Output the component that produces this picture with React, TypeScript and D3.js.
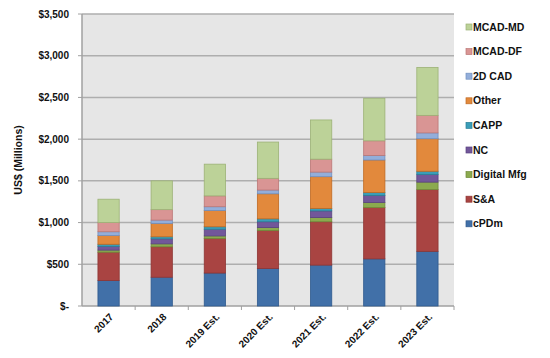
import { useMemo } from "react";
import * as d3 from "d3";

// chart data
const years = ["2017", "2018", "2019 Est.", "2020 Est.", "2021 Est.", "2022 Est.", "2023 Est."];
const seriesNames = ["cPDm", "S&A", "Digital Mfg", "NC", "CAPP", "Other", "2D CAD", "MCAD-DF", "MCAD-MD"];
const cPDm = [305, 345, 395, 450, 490, 565, 655];
const sAndA = [340, 365, 415, 455, 520, 615, 740];
const digitalMfg = [25, 35, 30, 35, 50, 60, 90];
const nc = [45, 60, 80, 70, 80, 85, 90];
const capp = [25, 25, 30, 35, 30, 35, 40];
const other = [105, 160, 195, 300, 380, 390, 390];
const cad2d = [45, 40, 45, 45, 55, 55, 70];
const mcadDF = [110, 125, 130, 140, 155, 175, 210];
const mcadMD = [280, 345, 380, 435, 470, 510, 575];
const yTicks = [0, 500, 1000, 1500, 2000, 2500, 3000, 3500];

const fills = ["#4170A8", "#A94442", "#8BAA4E", "#72579A", "#3A9DB8", "#E2893C", "#93AEDA", "#D99594", "#BCD298"];
const strokes = ["#2F5A8E", "#8E3533", "#6F8A3A", "#5A4380", "#2A7F96", "#C06A22", "#7090C0", "#BB7776", "#9CB276"];

const W = 550;
const H = 358;
const margin = { left: 82, right: 96, top: 14, bottom: 52 };

export default function App() {
  const innerW = W - margin.left - margin.right;
  const innerH = H - margin.top - margin.bottom;

  const rows = useMemo(
    () =>
      years.map((year, i) => ({
        year,
        cPDm: cPDm[i],
        "S&A": sAndA[i],
        "Digital Mfg": digitalMfg[i],
        NC: nc[i],
        CAPP: capp[i],
        Other: other[i],
        "2D CAD": cad2d[i],
        "MCAD-DF": mcadDF[i],
        "MCAD-MD": mcadMD[i],
      })),
    []
  );

  const stacked = d3.stack<any>().keys(seriesNames)(rows);

  // bars are 21px wide inside equal slots -> band scale with matching padding
  const x = d3.scaleBand().domain(years).range([0, innerW]).paddingInner(0.6).paddingOuter(0.3);
  const y = d3.scaleLinear().domain([0, 3500]).range([innerH, 0]);
  const fmt = (v: number) => (v === 0 ? "$-" : "$" + d3.format(",")(v));
  const step = x.step();
  const bw = x.bandwidth();
  const cx = (yr: string) => (x(yr) ?? 0) + bw / 2;

  const font = "'Liberation Sans', Arial, sans-serif";
  const legendOrder = [...seriesNames].reverse();

  return (
    <svg width={W} height={H} style={{ position: "absolute", left: 0, top: 0, background: "#fff" }}>
      <g transform={`translate(${margin.left},${margin.top})`}>
        <rect x={0} y={0} width={innerW} height={innerH} fill="#E6E6E6" />
        {yTicks.map((t) => (
          <g key={t}>
            {t > 0 && <line x1={0} x2={innerW} y1={y(t)} y2={y(t)} stroke="#AEAEAE" strokeWidth={1.5} />}
            <line x1={-4} x2={0} y1={y(t)} y2={y(t)} stroke="#A0A0A0" />
            <text
              x={-13}
              y={y(t)}
              dy="0.35em"
              textAnchor="end"
              fontFamily={font}
              fontWeight="bold"
              fontSize={10}
              fill="#111"
            >
              {fmt(t)}
            </text>
          </g>
        ))}
        <line x1={0} x2={0} y1={0} y2={innerH} stroke="#A0A0A0" strokeWidth={1.5} />
        <line x1={0} x2={innerW} y1={innerH} y2={innerH} stroke="#A0A0A0" strokeWidth={1.5} />
        {years.map((yr) => (
          <line key={yr} x1={cx(yr) + step / 2} x2={cx(yr) + step / 2} y1={innerH} y2={innerH + 4} stroke="#A0A0A0" />
        ))}

        {stacked.map((layer, si) => (
          <g key={layer.key}>
            {layer.map((d, i) => (
              <rect
                key={i}
                x={x(years[i])}
                width={bw}
                y={y(d[1])}
                height={y(d[0]) - y(d[1])}
                fill={fills[si]}
                stroke={strokes[si]}
                strokeWidth={0.8}
              />
            ))}
          </g>
        ))}

        {years.map((yr) => (
          <text
            key={yr}
            transform={`translate(${cx(yr) + 3},${innerH + 9}) rotate(-45)`}
            textAnchor="end"
            dy="0.35em"
            fontFamily={font}
            fontWeight="bold"
            fontSize={10}
            fill="#111"
          >
            {yr}
          </text>
        ))}
        <text
          transform={`translate(${-60},${innerH / 2}) rotate(-90)`}
          textAnchor="middle"
          fontFamily={font}
          fontWeight="bold"
          fontSize={10.5}
          fill="#111"
        >
          US$ (Millions)
        </text>
      </g>

      <g transform="translate(466,27)">
        {legendOrder.map((name, i) => {
          const si = seriesNames.indexOf(name);
          return (
            <g key={name} transform={`translate(0,${i * 24.6})`}>
              <rect x={0} y={-3} width={6} height={6} fill={fills[si]} stroke={strokes[si]} strokeWidth={0.7} />
              <text x={7} y={0} dy="0.35em" fontFamily={font} fontWeight="bold" fontSize={10.5} fill="#111">
                {name}
              </text>
            </g>
          );
        })}
      </g>
    </svg>
  );
}
